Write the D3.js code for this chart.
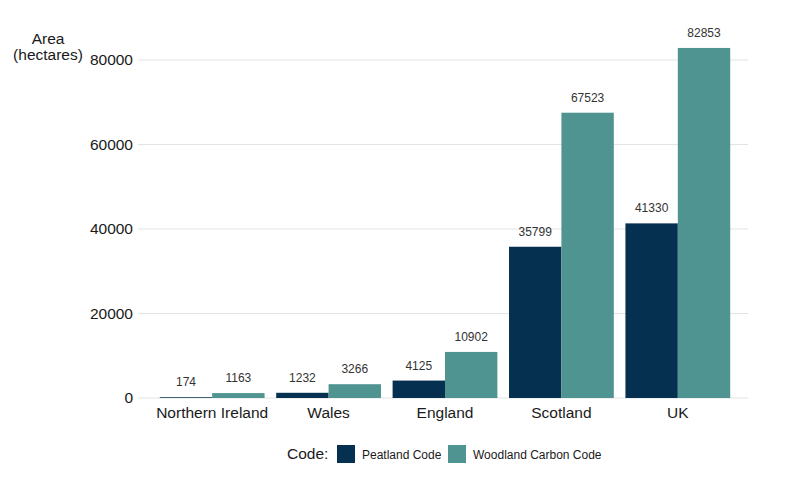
<!DOCTYPE html>
<html lang="en">
<head>
    <meta charset="UTF-8">
    <title>Peatland and Woodland Carbon Code areas</title>
    <script src="https://d3js.org/d3.v7.min.js"></script>
    <style>
        html, body {
            margin: 0;
            background: #fff;
            font-family: "Liberation Sans", Arial, sans-serif;
        }
    </style>
</head>
<body>
    <div id="vis"></div>

    <script>
        // data
        var countries = ["Northern Ireland", "Wales", "England", "Scotland", "UK"];
        var codes = ["Peatland Code", "Woodland Carbon Code"];
        var peatland = [174, 1232, 4125, 35799, 41330];
        var woodland = [1163, 3266, 10902, 67523, 82853];
        var yTicks = [0, 20000, 40000, 60000, 80000];
        var colours = ["#05304f", "#4f9490"];

        var width = 810, height = 483;
        var panel = {left: 138, right: 748, top: 60, bottom: 398};

        var svg = d3.select("#vis")
            .append("svg")
                .attr("width", width)
                .attr("height", height);

        var x_scale = d3.scaleBand()
            .domain(countries)
            .range([panel.left + 2, panel.right + 2])
            .paddingInner(0.1)
            .paddingOuter(0.17);

        var x_inner = d3.scaleBand()
            .domain(codes)
            .range([0, x_scale.bandwidth()]);

        var y_scale = d3.scaleLinear()
            .domain([0, 80000])
            .range([panel.bottom, panel.top]);

        var colour = d3.scaleOrdinal().domain(codes).range(colours);

        // horizontal grid lines
        svg.append("g")
            .selectAll("line")
            .data(yTicks)
            .enter().append("line")
                .attr("x1", panel.left)
                .attr("x2", panel.right)
                .attr("y1", function(d) { return y_scale(d); })
                .attr("y2", function(d) { return y_scale(d); })
                .attr("stroke", "#e3e3e3")
                .attr("stroke-width", 1);

        // y axis labels
        var y_axis = d3.axisLeft(y_scale)
            .tickValues(yTicks)
            .tickFormat(d3.format("d"))
            .tickSize(0)
            .tickPadding(5);
        var yg = svg.append("g")
            .attr("transform", "translate(" + panel.left + ",0)")
            .call(y_axis);
        yg.select(".domain").remove();
        yg.selectAll("text")
            .attr("font-family", "Liberation Sans, Arial, sans-serif")
            .attr("font-size", "15.5px")
            .attr("fill", "#1a1a1a");

        // x axis labels
        var x_axis = d3.axisBottom(x_scale).tickSize(0).tickPadding(9);
        var xg = svg.append("g")
            .attr("transform", "translate(0," + panel.bottom + ")")
            .call(x_axis);
        xg.select(".domain").remove();
        xg.selectAll("text")
            .attr("font-family", "Liberation Sans, Arial, sans-serif")
            .attr("font-size", "15.5px")
            .attr("fill", "#1a1a1a");

        // y axis title
        svg.append("text")
            .attr("x", 48)
            .attr("y", 44)
            .attr("text-anchor", "middle")
            .attr("font-size", "15.5px")
            .attr("fill", "#1a1a1a")
            .text("Area");
        svg.append("text")
            .attr("x", 48)
            .attr("y", 60)
            .attr("text-anchor", "middle")
            .attr("font-size", "15.5px")
            .attr("fill", "#1a1a1a")
            .text("(hectares)");

        // bars
        var rows = countries.map(function(c, i) {
            return {country: c, values: [
                {code: codes[0], value: peatland[i]},
                {code: codes[1], value: woodland[i]}
            ]};
        });

        var groups = svg.append("g")
            .selectAll("g")
            .data(rows)
            .enter().append("g")
                .attr("transform", function(d) { return "translate(" + x_scale(d.country) + ",0)"; });

        groups.selectAll("rect")
            .data(function(d) { return d.values; })
            .enter().append("rect")
                .attr("x", function(d) { return x_inner(d.code); })
                .attr("width", x_inner.bandwidth())
                .attr("y", function(d) { return y_scale(d.value); })
                .attr("height", function(d) { return y_scale(0) - y_scale(d.value); })
                .attr("fill", function(d) { return colour(d.code); });

        groups.selectAll("text")
            .data(function(d) { return d.values; })
            .enter().append("text")
                .attr("x", function(d) { return x_inner(d.code) + x_inner.bandwidth() / 2; })
                .attr("y", function(d) { return y_scale(d.value) - 11; })
                .attr("text-anchor", "middle")
                .attr("font-size", "12px")
                .attr("fill", "#333")
                .text(function(d) { return d.value; });

        // legend
        var legend = svg.append("g");
        legend.append("text")
            .attr("x", 287)
            .attr("y", 459)
            .attr("font-size", "15.5px")
            .attr("fill", "#1a1a1a")
            .text("Code:");

        var legendX = [337, 448];
        var items = legend.selectAll("g.item")
            .data(codes)
            .enter().append("g")
                .attr("class", "item")
                .attr("transform", function(d, i) { return "translate(" + legendX[i] + ",445)"; });
        items.append("rect")
            .attr("width", 18)
            .attr("height", 18)
            .attr("fill", function(d) { return colour(d); });
        items.append("text")
            .attr("x", 25)
            .attr("y", 13.5)
            .attr("font-size", "12px")
            .attr("fill", "#1a1a1a")
            .text(function(d) { return d; });
    </script>
</body>
</html>
